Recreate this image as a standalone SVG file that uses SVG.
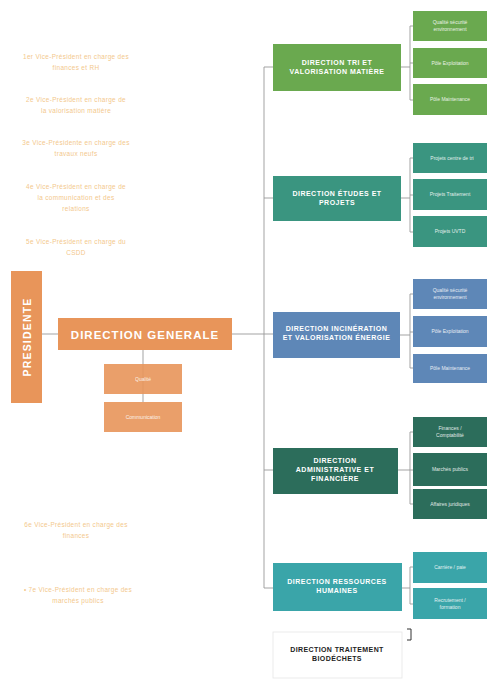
<svg xmlns="http://www.w3.org/2000/svg" width="487" height="681" viewBox="0 0 487 681">
<style>
text{font-family:"Liberation Sans",Arial,sans-serif;}
.vp{fill:#f3c88c;font-size:6.4px;letter-spacing:0.35px;text-anchor:middle;}
.main{fill:#ffffff;font-size:7px;font-weight:bold;letter-spacing:0.5px;text-anchor:middle;}
.sub{fill:#ffffff;font-size:5px;text-anchor:middle;opacity:0.85;}
.ln{stroke:#999999;stroke-width:0.9;fill:none;}
.or{fill:#e8955a;}
.gr{fill:#6aa94f;}
.te{fill:#3a9580;}
.bl{fill:#5e87b7;}
.dg{fill:#2c6d5b;}
.rh{fill:#3aa5a9;}
</style>
<rect width="487" height="681" fill="#ffffff"/>

<g id="vice-presidents">
<text class="vp" x="76" y="59">1er Vice-Président en charge des</text>
<text class="vp" x="76" y="70">finances et RH</text>
<text class="vp" x="76" y="102">2e Vice-Président en charge de</text>
<text class="vp" x="76" y="113">la valorisation matière</text>
<text class="vp" x="76" y="145">3e Vice-Présidente en charge des</text>
<text class="vp" x="76" y="156">travaux neufs</text>
<text class="vp" x="76" y="189">4e Vice-Président en charge de</text>
<text class="vp" x="76" y="200">la communication et des</text>
<text class="vp" x="76" y="211">relations</text>
<text class="vp" x="76" y="244">5e Vice-Président en charge du</text>
<text class="vp" x="76" y="255">CSDD</text>
<text class="vp" x="76" y="527">6e Vice-Président en charge des</text>
<text class="vp" x="76" y="538">finances</text>
<text class="vp" x="78" y="592">• 7e Vice-Président en charge des</text>
<text class="vp" x="78" y="603">marchés publics</text>
</g>

<g id="connectors">
<line class="ln" x1="42" y1="334" x2="58" y2="334"/>
<line class="ln" x1="143" y1="350" x2="143" y2="402"/>
<line class="ln" x1="232" y1="334" x2="273" y2="334"/>
<line class="ln" x1="264" y1="67" x2="264" y2="588"/>
<line class="ln" x1="264" y1="67" x2="273" y2="67"/>
<line class="ln" x1="264" y1="198" x2="273" y2="198"/>
<line class="ln" x1="264" y1="470" x2="273" y2="470"/>
<line class="ln" x1="264" y1="588" x2="273" y2="588"/>
<path class="ln" d="M401 67 H410 M410 26 V100 M410 26 H413 M410 63 H413 M410 100 H413"/>
<path class="ln" d="M401 198 H410 M410 158 V232 M410 158 H413 M410 195 H413 M410 232 H413"/>
<path class="ln" d="M400 335 H410 M410 294 V368 M410 294 H413 M410 332 H413 M410 368 H413"/>
<path class="ln" d="M398 470 H410 M410 432 V504 M410 432 H413 M410 470 H413 M410 504 H413"/>
<path class="ln" d="M402 588 H410 M410 567 V604 M410 567 H413 M410 604 H413"/>
</g>

<g id="presidente">
<rect class="or" x="11" y="271" width="31" height="132"/>
<text transform="translate(30.5 337) rotate(-90)" fill="#fff" font-size="10.5" font-weight="bold" letter-spacing="1.2" text-anchor="middle">PRESIDENTE</text>
</g>
<g id="direction-generale">
<rect class="or" x="58" y="318" width="174" height="32"/>
<text x="145" y="338.5" fill="#fff" font-size="11.5" font-weight="bold" letter-spacing="1" text-anchor="middle">DIRECTION GENERALE</text>
</g>
<g id="qualite">
<rect class="or" x="104" y="364" width="78" height="30" opacity="0.9"/>
<text class="sub" x="143" y="381">Qualité</text>
</g>
<g id="communication">
<rect class="or" x="104" y="402" width="78" height="30" opacity="0.9"/>
<text class="sub" x="143" y="419">Communication</text>
</g>

<g id="dir-tri">
<rect class="gr" x="273" y="44" width="128" height="47"/>
<text class="main" x="337" y="65">DIRECTION TRI ET</text>
<text class="main" x="337" y="74">VALORISATION MATIÈRE</text>
</g>
<g id="tri-qse"><rect class="gr" x="413" y="11" width="74" height="30"/><text class="sub" x="450" y="24">Qualité sécurité</text><text class="sub" x="450" y="31">environnement</text></g>
<g id="tri-exploitation"><rect class="gr" x="413" y="48" width="74" height="30"/><text class="sub" x="450" y="65">Pôle Exploitation</text></g>
<g id="tri-maintenance"><rect class="gr" x="413" y="84" width="74" height="31"/><text class="sub" x="450" y="101">Pôle Maintenance</text></g>

<g id="dir-etudes">
<rect class="te" x="273" y="176" width="128" height="45"/>
<text class="main" x="337" y="196">DIRECTION ÉTUDES ET</text>
<text class="main" x="337" y="205">PROJETS</text>
</g>
<g id="etudes-1"><rect class="te" x="413" y="143" width="74" height="30"/><text class="sub" x="452" y="160">Projets centre de tri</text></g>
<g id="etudes-2"><rect class="te" x="413" y="179" width="74" height="31"/><text class="sub" x="450" y="196">Projets Traitement</text></g>
<g id="etudes-3"><rect class="te" x="413" y="216" width="74" height="31"/><text class="sub" x="450" y="233">Projets UVTD</text></g>

<g id="dir-incineration">
<rect class="bl" x="273" y="312" width="127" height="46"/>
<text class="main" x="336.5" y="331" letter-spacing="0.2">DIRECTION INCINÉRATION</text>
<text class="main" x="336.5" y="340" letter-spacing="0.2">ET VALORISATION ÉNERGIE</text>
</g>
<g id="inc-qse"><rect class="bl" x="413" y="279" width="74" height="30"/><text class="sub" x="450" y="292">Qualité sécurité</text><text class="sub" x="450" y="299">environnement</text></g>
<g id="inc-exploitation"><rect class="bl" x="413" y="316" width="74" height="31"/><text class="sub" x="450" y="333">Pôle Exploitation</text></g>
<g id="inc-maintenance"><rect class="bl" x="413" y="354" width="74" height="29"/><text class="sub" x="450" y="370">Pôle Maintenance</text></g>

<g id="dir-administrative">
<rect class="dg" x="273" y="448" width="125" height="46"/>
<text class="main" x="335" y="463">DIRECTION</text>
<text class="main" x="335" y="472">ADMINISTRATIVE ET</text>
<text class="main" x="335" y="481">FINANCIÈRE</text>
</g>
<g id="adm-finances"><rect class="dg" x="413" y="417" width="74" height="30"/><text class="sub" x="450" y="430">Finances /</text><text class="sub" x="450" y="437">Comptabilité</text></g>
<g id="adm-marches"><rect class="dg" x="413" y="453" width="74" height="33"/><text class="sub" x="450" y="471">Marchés publics</text></g>
<g id="adm-juridiques"><rect class="dg" x="413" y="489" width="74" height="30"/><text class="sub" x="450" y="506">Affaires juridiques</text></g>

<g id="dir-rh">
<rect class="rh" x="273" y="563" width="129" height="48"/>
<text class="main" x="337" y="584">DIRECTION RESSOURCES</text>
<text class="main" x="337" y="593">HUMAINES</text>
</g>
<g id="rh-carriere"><rect class="rh" x="413" y="552" width="74" height="31"/><text class="sub" x="450" y="569">Carrière / paie</text></g>
<g id="rh-recrutement"><rect class="rh" x="413" y="588" width="74" height="31"/><text class="sub" x="450" y="602">Recrutement /</text><text class="sub" x="450" y="609">formation</text></g>

<g id="dir-biodechets">
<rect x="273" y="632" width="129" height="46" fill="#ffffff" stroke="#e6e6e6" stroke-width="0.8"/>
<path d="M407 629 H411 V640 H407" fill="none" stroke="#333" stroke-width="1"/>
<text x="337" y="652" fill="#222" font-size="7" font-weight="bold" letter-spacing="0.4" text-anchor="middle">DIRECTION TRAITEMENT</text>
<text x="337" y="661" fill="#222" font-size="7" font-weight="bold" letter-spacing="0.4" text-anchor="middle">BIODÉCHETS</text>
</g>
</svg>
